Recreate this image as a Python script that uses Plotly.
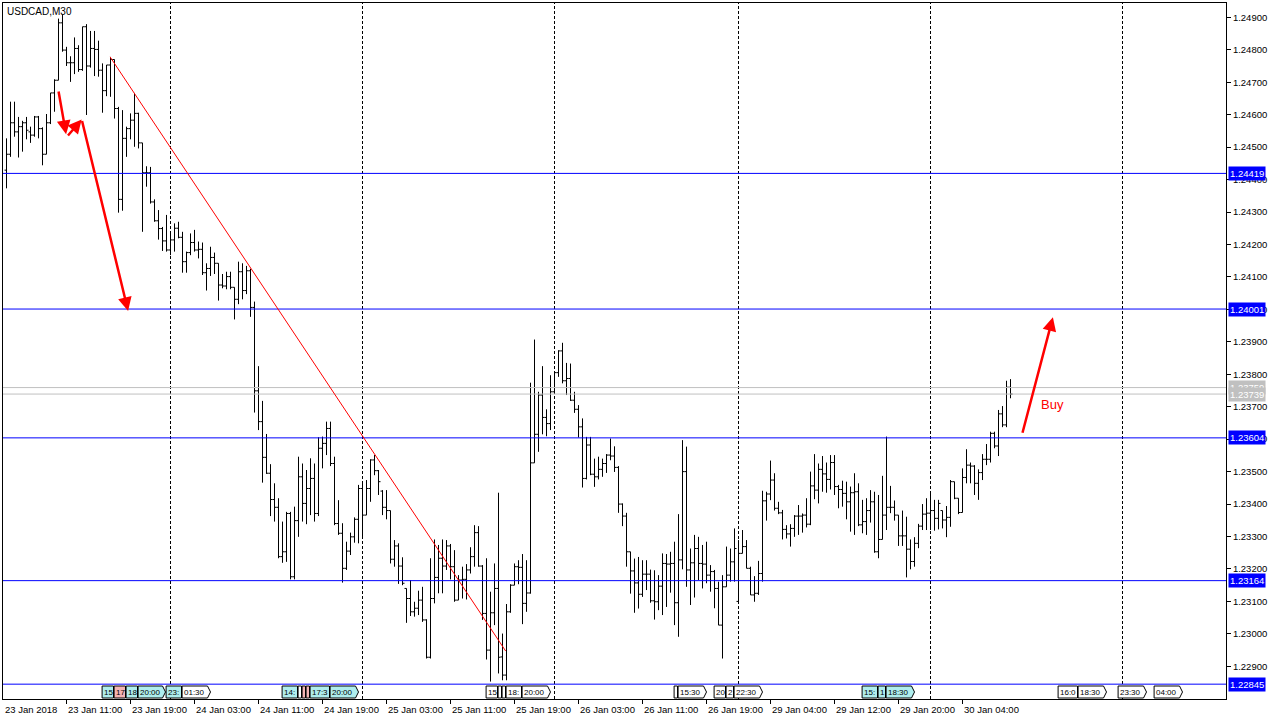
import plotly.graph_objects as go

chart_title = "USDCAD,M30"

# ---- OHLC data (M30 bars, bar 0 = 23 Jan 2018 03:30) ----
opens = [1.24429, 1.24478, 1.24575, 1.24547, 1.24563, 1.24575, 1.24547, 1.24537, 1.24593, 1.24557,
         1.24478, 1.24575, 1.24667, 1.24706, 1.24883, 1.24799, 1.24760, 1.24760, 1.24804, 1.24739,
         1.24871, 1.24750, 1.24804, 1.24801, 1.24737, 1.24674, 1.24753, 1.24770, 1.24619, 1.24339,
         1.24527, 1.24557, 1.24583, 1.24604, 1.24513, 1.24421, 1.24421, 1.24331, 1.24273, 1.24249,
         1.24211, 1.24183, 1.24214, 1.24250, 1.24222, 1.24147, 1.24175, 1.24206, 1.24183, 1.24185,
         1.24113, 1.24126, 1.24160, 1.24142, 1.24075, 1.24072, 1.24101, 1.24068, 1.24031, 1.24116,
         1.24058, 1.24119, 1.24006, 1.23749, 1.23654, 1.23544, 1.23495, 1.23414, 1.23390, 1.23238,
         1.23253, 1.23371, 1.23176, 1.23349, 1.23484, 1.23402, 1.23448, 1.23479, 1.23371, 1.23572,
         1.23587, 1.23633, 1.23525, 1.23340, 1.23310, 1.23202, 1.23255, 1.23299, 1.23353, 1.23448,
         1.23366, 1.23448, 1.23536, 1.23503, 1.23440, 1.23390, 1.23380, 1.23230, 1.23271, 1.23209,
         1.23140, 1.23109, 1.23068, 1.23079, 1.23104, 1.23043, 1.22928, 1.23109, 1.23174, 1.23233,
         1.23209, 1.23271, 1.23207, 1.23104, 1.23166, 1.23168, 1.23197, 1.23238, 1.23312, 1.23209,
         1.23063, 1.22950, 1.23065, 1.23140, 1.22929, 1.22873, 1.23068, 1.23150, 1.23207, 1.23205,
         1.23094, 1.23126, 1.23527, 1.23615, 1.23736, 1.23667, 1.23648, 1.23746, 1.23805, 1.23872,
         1.23780, 1.23787, 1.23720, 1.23692, 1.23638, 1.23479, 1.23582, 1.23492, 1.23484, 1.23507,
         1.23525, 1.23551, 1.23548, 1.23513, 1.23400, 1.23363, 1.23253, 1.23194, 1.23157, 1.23122,
         1.23184, 1.23184, 1.23102, 1.23099, 1.23147, 1.23217, 1.23215, 1.23217, 1.23096, 1.23228,
         1.23500, 1.23197, 1.23219, 1.23263, 1.23217, 1.23215, 1.23181, 1.23192, 1.23140, 1.23027,
         1.23145, 1.23181, 1.23222, 1.23100, 1.23248, 1.23269, 1.23202, 1.23120, 1.23125, 1.23186,
         1.23410, 1.23431, 1.23474, 1.23387, 1.23373, 1.23322, 1.23308, 1.23325, 1.23363, 1.23363,
         1.23366, 1.23338, 1.23456, 1.23443, 1.23507, 1.23493, 1.23476, 1.23528, 1.23454, 1.23445,
         1.23433, 1.23407, 1.23435, 1.23438, 1.23336, 1.23346, 1.23380, 1.23407, 1.23253, 1.23291,
         1.23366, 1.23390, 1.23390, 1.23366, 1.23302, 1.23302, 1.23261, 1.23223, 1.23279, 1.23332,
         1.23369, 1.23372, 1.23380, 1.23356, 1.23380, 1.23351, 1.23359, 1.23469, 1.23418, 1.23374,
         1.23482, 1.23520, 1.23517, 1.23464, 1.23497, 1.23538, 1.23538, 1.23618, 1.23579, 1.23678,
         1.23644, 1.23760]
highs = [1.24527, 1.24640, 1.24640, 1.24593, 1.24581, 1.24593, 1.24563, 1.24596, 1.24596, 1.24561,
         1.24602, 1.24667, 1.24709, 1.24896, 1.24907, 1.24809, 1.24780, 1.24838, 1.24814, 1.24871,
         1.24879, 1.24858, 1.24858, 1.24828, 1.24758, 1.24753, 1.24778, 1.24770, 1.24624, 1.24614,
         1.24563, 1.24604, 1.24667, 1.24606, 1.24513, 1.24441, 1.24439, 1.24339, 1.24306, 1.24254,
         1.24291, 1.24234, 1.24265, 1.24270, 1.24239, 1.24178, 1.24234, 1.24245, 1.24209, 1.24206,
         1.24142, 1.24193, 1.24175, 1.24142, 1.24109, 1.24116, 1.24116, 1.24068, 1.24147, 1.24142,
         1.24134, 1.24125, 1.24024, 1.23825, 1.23718, 1.23616, 1.23523, 1.23464, 1.23418, 1.23346,
         1.23376, 1.23376, 1.23392, 1.23546, 1.23525, 1.23505, 1.23541, 1.23525, 1.23606, 1.23608,
         1.23654, 1.23654, 1.23546, 1.23412, 1.23341, 1.23284, 1.23312, 1.23359, 1.23459, 1.23469,
         1.23474, 1.23538, 1.23551, 1.23505, 1.23443, 1.23443, 1.23380, 1.23289, 1.23279, 1.23236,
         1.23140, 1.23166, 1.23099, 1.23133, 1.23145, 1.23045, 1.23233, 1.23291, 1.23274, 1.23291,
         1.23289, 1.23277, 1.23258, 1.23181, 1.23207, 1.23215, 1.23267, 1.23335, 1.23332, 1.23212,
         1.23233, 1.23130, 1.23217, 1.23435, 1.23001, 1.23092, 1.23153, 1.23217, 1.23227, 1.23246,
         1.23227, 1.23774, 1.23907, 1.23746, 1.23825, 1.23692, 1.23797, 1.23808, 1.23874, 1.23897,
         1.23835, 1.23833, 1.23746, 1.23705, 1.23664, 1.23607, 1.23607, 1.23540, 1.23546, 1.23540,
         1.23554, 1.23602, 1.23578, 1.23517, 1.23402, 1.23373, 1.23253, 1.23232, 1.23237, 1.23227,
         1.23227, 1.23198, 1.23196, 1.23181, 1.23248, 1.23246, 1.23253, 1.23284, 1.23369, 1.23597,
         1.23577, 1.23263, 1.23305, 1.23299, 1.23274, 1.23284, 1.23212, 1.23197, 1.23161, 1.23181,
         1.23269, 1.23263, 1.23325, 1.23289, 1.23320, 1.23289, 1.23207, 1.23178, 1.23225, 1.23441,
         1.23438, 1.23534, 1.23495, 1.23407, 1.23382, 1.23335, 1.23338, 1.23366, 1.23397, 1.23371,
         1.23418, 1.23500, 1.23554, 1.23525, 1.23548, 1.23528, 1.23551, 1.23551, 1.23459, 1.23472,
         1.23469, 1.23454, 1.23495, 1.23464, 1.23413, 1.23418, 1.23443, 1.23438, 1.23428, 1.23487,
         1.23608, 1.23456, 1.23411, 1.23366, 1.23380, 1.23361, 1.23291, 1.23298, 1.23339, 1.23400,
         1.23418, 1.23431, 1.23413, 1.23413, 1.23380, 1.23394, 1.23474, 1.23469, 1.23418, 1.23510,
         1.23569, 1.23528, 1.23520, 1.23507, 1.23554, 1.23585, 1.23623, 1.23623, 1.23690, 1.23702,
         1.23780, 1.23785]
lows = [1.24373, 1.24470, 1.24532, 1.24468, 1.24486, 1.24524, 1.24513, 1.24532, 1.24527, 1.24444,
        1.24478, 1.24571, 1.24609, 1.24706, 1.24794, 1.24750, 1.24701, 1.24725, 1.24732, 1.24735,
        1.24599, 1.24745, 1.24719, 1.24717, 1.24606, 1.24657, 1.24655, 1.24588, 1.24298, 1.24304,
        1.24470, 1.24524, 1.24501, 1.24496, 1.24239, 1.24378, 1.24326, 1.24270, 1.24215, 1.24180,
        1.24178, 1.24167, 1.24178, 1.24219, 1.24113, 1.24113, 1.24167, 1.24178, 1.24157, 1.24106,
        1.24058, 1.24103, 1.24109, 1.24027, 1.24065, 1.24062, 1.24062, 1.23969, 1.24016, 1.24031,
        1.24047, 1.23977, 1.23682, 1.23628, 1.23466, 1.23493, 1.23363, 1.23346, 1.23233, 1.23219,
        1.23222, 1.23168, 1.23168, 1.23299, 1.23346, 1.23338, 1.23366, 1.23346, 1.23363, 1.23510,
        1.23551, 1.23517, 1.23335, 1.23305, 1.23158, 1.23197, 1.23243, 1.23281, 1.23279, 1.23294,
        1.23366, 1.23407, 1.23489, 1.23428, 1.23366, 1.23353, 1.23217, 1.23207, 1.23154, 1.23150,
        1.23034, 1.23055, 1.23053, 1.23058, 1.23037, 1.22924, 1.22924, 1.23094, 1.23125, 1.23125,
        1.23197, 1.23168, 1.23099, 1.23104, 1.23109, 1.23106, 1.23186, 1.23207, 1.23207, 1.23043,
        1.22921, 1.22853, 1.23027, 1.22878, 1.22857, 1.22857, 1.23065, 1.23150, 1.23153, 1.23030,
        1.23068, 1.23124, 1.23527, 1.23561, 1.23615, 1.23609, 1.23628, 1.23740, 1.23792, 1.23772,
        1.23736, 1.23718, 1.23681, 1.23605, 1.23451, 1.23476, 1.23489, 1.23453, 1.23476, 1.23484,
        1.23496, 1.23535, 1.23499, 1.23373, 1.23332, 1.23207, 1.23124, 1.23065, 1.23078, 1.23114,
        1.23135, 1.23096, 1.23044, 1.23073, 1.23058, 1.23083, 1.23127, 1.23027, 1.22991, 1.23199,
        1.23145, 1.23089, 1.23112, 1.23166, 1.23140, 1.23156, 1.23130, 1.23079, 1.23027, 1.22924,
        1.23145, 1.23161, 1.23161, 1.23092, 1.23248, 1.23202, 1.23120, 1.23099, 1.23120, 1.23161,
        1.23349, 1.23412, 1.23380, 1.23369, 1.23291, 1.23294, 1.23269, 1.23299, 1.23305, 1.23312,
        1.23328, 1.23335, 1.23415, 1.23402, 1.23438, 1.23435, 1.23445, 1.23428, 1.23387, 1.23392,
        1.23353, 1.23315, 1.23305, 1.23332, 1.23310, 1.23305, 1.23343, 1.23250, 1.23233, 1.23291,
        1.23320, 1.23372, 1.23349, 1.23271, 1.23271, 1.23174, 1.23199, 1.23207, 1.23264, 1.23320,
        1.23320, 1.23320, 1.23318, 1.23322, 1.23325, 1.23298, 1.23330, 1.23415, 1.23369, 1.23374,
        1.23464, 1.23464, 1.23428, 1.23413, 1.23474, 1.23520, 1.23528, 1.23572, 1.23548, 1.23637,
        1.23637, 1.23726]
closes = [1.24478, 1.24575, 1.24547, 1.24563, 1.24575, 1.24552, 1.24537, 1.24593, 1.24557, 1.24478,
          1.24575, 1.24667, 1.24706, 1.24883, 1.24799, 1.24760, 1.24760, 1.24804, 1.24739, 1.24871,
          1.24750, 1.24804, 1.24801, 1.24737, 1.24674, 1.24753, 1.24770, 1.24619, 1.24339, 1.24527,
          1.24557, 1.24583, 1.24604, 1.24513, 1.24421, 1.24421, 1.24331, 1.24273, 1.24249, 1.24211,
          1.24183, 1.24214, 1.24250, 1.24222, 1.24147, 1.24175, 1.24206, 1.24183, 1.24185, 1.24113,
          1.24126, 1.24160, 1.24142, 1.24075, 1.24072, 1.24101, 1.24068, 1.24031, 1.24116, 1.24058,
          1.24119, 1.24006, 1.23749, 1.23654, 1.23544, 1.23495, 1.23414, 1.23390, 1.23238, 1.23253,
          1.23371, 1.23176, 1.23349, 1.23484, 1.23402, 1.23448, 1.23479, 1.23371, 1.23572, 1.23587,
          1.23633, 1.23525, 1.23340, 1.23310, 1.23202, 1.23255, 1.23299, 1.23353, 1.23448, 1.23366,
          1.23448, 1.23536, 1.23503, 1.23469, 1.23390, 1.23380, 1.23230, 1.23271, 1.23209, 1.23156,
          1.23109, 1.23068, 1.23079, 1.23104, 1.23043, 1.22928, 1.23109, 1.23174, 1.23233, 1.23209,
          1.23271, 1.23207, 1.23104, 1.23166, 1.23168, 1.23197, 1.23238, 1.23312, 1.23209, 1.23063,
          1.22950, 1.23065, 1.23140, 1.22928, 1.22873, 1.23068, 1.23150, 1.23207, 1.23205, 1.23094,
          1.23126, 1.23527, 1.23615, 1.23736, 1.23667, 1.23648, 1.23746, 1.23805, 1.23872, 1.23780,
          1.23787, 1.23720, 1.23692, 1.23638, 1.23479, 1.23582, 1.23492, 1.23484, 1.23507, 1.23525,
          1.23551, 1.23548, 1.23513, 1.23400, 1.23363, 1.23253, 1.23194, 1.23157, 1.23122, 1.23184,
          1.23184, 1.23102, 1.23099, 1.23147, 1.23217, 1.23215, 1.23217, 1.23096, 1.23228, 1.23500,
          1.23197, 1.23219, 1.23263, 1.23217, 1.23215, 1.23181, 1.23192, 1.23140, 1.23027, 1.23145,
          1.23181, 1.23222, 1.23263, 1.23248, 1.23269, 1.23202, 1.23120, 1.23125, 1.23186, 1.23410,
          1.23431, 1.23474, 1.23387, 1.23373, 1.23322, 1.23308, 1.23325, 1.23363, 1.23363, 1.23366,
          1.23338, 1.23456, 1.23443, 1.23507, 1.23493, 1.23476, 1.23528, 1.23454, 1.23445, 1.23433,
          1.23407, 1.23435, 1.23438, 1.23336, 1.23346, 1.23380, 1.23407, 1.23253, 1.23291, 1.23366,
          1.23390, 1.23390, 1.23366, 1.23302, 1.23302, 1.23261, 1.23223, 1.23279, 1.23332, 1.23369,
          1.23372, 1.23380, 1.23356, 1.23402, 1.23351, 1.23359, 1.23469, 1.23418, 1.23374, 1.23482,
          1.23520, 1.23517, 1.23464, 1.23497, 1.23538, 1.23538, 1.23618, 1.23579, 1.23678, 1.23644,
          1.23760, 1.23739]
bar_index = list(range(len(opens)))

# ---- time axis ----
first_time_label = "23 Jan 2018"
time_tick_bars = [15, 31, 47, 63, 79, 95, 111, 127, 143, 159, 175, 191, 207, 223, 239]
time_tick_labels = ["23 Jan 11:00", "23 Jan 19:00", "24 Jan 03:00", "24 Jan 11:00", "24 Jan 19:00",
                    "25 Jan 03:00", "25 Jan 11:00", "25 Jan 19:00", "26 Jan 03:00", "26 Jan 11:00",
                    "26 Jan 19:00", "29 Jan 04:00", "29 Jan 12:00", "29 Jan 20:00", "30 Jan 04:00"]
day_separator_bars = [41, 89, 137, 183, 231, 279]
x_view = [-0.875, 304.875]

# ---- price axis ----
price_ticks = [1.229, 1.230, 1.231, 1.232, 1.233, 1.234, 1.235, 1.236, 1.237, 1.238, 1.239,
               1.240, 1.241, 1.242, 1.243, 1.244, 1.245, 1.246, 1.247, 1.248, 1.249]
price_tick_labels = ["1.22900", "1.23000", "1.23100", "1.23200", "1.23300", "1.23400", "1.23500",
                     "1.23600", "1.23700", "1.23800", "1.23900", "1.24000", "1.24100", "1.24200",
                     "1.24300", "1.24400", "1.24500", "1.24600", "1.24700", "1.24800", "1.24900"]
y_view = [1.227993, 1.249441]

# ---- horizontal levels ----
level_prices = [1.24419, 1.24001, 1.23604, 1.23164, 1.22845]
level_labels = ["1.24419", "1.24001", "1.23604", "1.23164", "1.22845"]
ask_price, ask_label = 1.23759, "1.23759"
bid_price, bid_label = 1.23739, "1.23739"

# ---- drawings ----
trend_bars = [25.9, 124.8]
trend_prices = [1.24778, 1.22947]
arrow_tail_bars = [12.95, 15.05, 18.8, 253.9]
arrow_tail_prices = [1.24676, 1.24531, 1.24585, 1.23615]
arrow_head_bars = [14.9, 18.8, 30.4, 261.6]
arrow_head_prices = [1.24540, 1.24585, 1.23995, 1.23976]
buy_text, buy_bar, buy_price = "Buy", 261.6, 1.23708

# ---- calendar event markers ----
event_bars = [24, 27, 30, 33, 40, 44, 69, 73, 74, 75, 76, 81, 120, 123, 124, 125, 129,
              167, 168, 177, 180, 182, 214, 218, 220, 263, 268, 278, 287]
event_labels = ["15", "17", "18", "20:00", "23:", "01:30", "14:", "", "", "", "17:3", "20:00",
                "15", "", "", "18:", "20:00", "", "15:30", "20", "2", "22:30", "15:", "1", "18:30",
                "16:0", "18:30", "23:30", "04:00"]
event_kinds = ["c", "p", "c", "c", "c", "w", "c", "w", "p", "p", "c", "c", "w", "w", "w", "w", "w",
               "w", "w", "w", "w", "w", "c", "c", "c", "w", "w", "w", "w"]
kind_colors = {"c": "#AFEEEE", "p": "#F4B4B4", "w": "#FFFFFF"}

FONT = "Liberation Sans, Arial, sans-serif"

fig = go.Figure()
fig.add_trace(go.Ohlc(
    x=bar_index, open=opens, high=highs, low=lows, close=closes,
    increasing=dict(line=dict(color="black", width=1)),
    decreasing=dict(line=dict(color="black", width=1)),
    tickwidth=0.5, hoverinfo="skip", showlegend=False,
))

shapes = []
for b in day_separator_bars:
    shapes.append(dict(type="line", xref="x", yref="paper", x0=b, x1=b, y0=0, y1=1,
                       line=dict(color="black", width=1, dash="3px,2px"), layer="above"))
for p in level_prices:
    shapes.append(dict(type="line", xref="paper", yref="y", x0=0, x1=1, y0=p, y1=p,
                       line=dict(color="#0000FF", width=1)))
for p in (ask_price, bid_price):
    shapes.append(dict(type="line", xref="paper", yref="y", x0=0, x1=1, y0=p, y1=p,
                       line=dict(color="#C0C0C0", width=1)))
shapes.append(dict(type="line", xref="x", yref="y", x0=trend_bars[0], x1=trend_bars[1],
                   y0=trend_prices[0], y1=trend_prices[1], line=dict(color="#FF0000", width=1)))

annotations = []
# event boxes
box_y0, box_y1 = 1.0 / 696, 13.0 / 696
box_mid = (box_y0 + box_y1) / 2
for i, (b, lab, kind) in enumerate(zip(event_bars, event_labels, event_kinds)):
    natural_end = b + 7
    nxt = event_bars[i + 1] - 0.25 if i + 1 < len(event_bars) else natural_end
    x1 = min(natural_end, nxt)
    x0 = b - 0.1
    if len(lab) == 5:
        path = (f"M {x0},{box_y0} L {x1 - 0.75},{box_y0} L {x1},{box_mid} "
                f"L {x1 - 0.75},{box_y1} L {x0},{box_y1} Z")
        shapes.append(dict(type="path", xref="x", yref="paper", path=path,
                           fillcolor=kind_colors[kind], line=dict(color="black", width=1)))
    else:
        shapes.append(dict(type="rect", xref="x", yref="paper", x0=x0, x1=x1, y0=box_y0, y1=box_y1,
                           fillcolor=kind_colors[kind], line=dict(color="black", width=1)))
    if lab:
        annotations.append(dict(x=x0, y=box_mid, xref="x", yref="paper", text=lab, showarrow=False,
                                xanchor="left", yanchor="middle", xshift=0,
                                font=dict(family=FONT, size=8, color="black")))

# time labels
annotations.append(dict(x=x_view[0], y=0, xref="x", yref="paper", text=first_time_label,
                        showarrow=False, xanchor="left", yanchor="top", yshift=-3,
                        font=dict(family=FONT, size=9.5, color="black")))
for b, lab in zip(time_tick_bars, time_tick_labels):
    annotations.append(dict(x=b, y=0, xref="x", yref="paper", text=lab, showarrow=False,
                            xanchor="left", yanchor="top", yshift=-3, xshift=-1,
                            font=dict(family=FONT, size=9.5, color="black")))

# price labels on the right
for p, lab in zip(level_prices, level_labels):
    annotations.append(dict(x=1, y=p, xref="paper", yref="y", text=lab, showarrow=False,
                            xanchor="left", yanchor="middle", xshift=2, bgcolor="#0000FF",
                            borderpad=1, font=dict(family=FONT, size=9.5, color="white")))
for p, lab in ((ask_price, ask_label), (bid_price, bid_label)):
    annotations.append(dict(x=1, y=p, xref="paper", yref="y", text=lab, showarrow=False,
                            xanchor="left", yanchor="middle", xshift=2, bgcolor="#C0C0C0",
                            borderpad=1, font=dict(family=FONT, size=9.5, color="white")))

# arrows
for tb, tp, hb, hp in zip(arrow_tail_bars, arrow_tail_prices, arrow_head_bars, arrow_head_prices):
    annotations.append(dict(x=hb, y=hp, ax=tb, ay=tp, xref="x", yref="y", axref="x", ayref="y",
                            text="", showarrow=True, arrowhead=2, arrowsize=1.1, arrowwidth=2.5,
                            arrowcolor="#FF0000"))
annotations.append(dict(x=buy_bar, y=buy_price, xref="x", yref="y", text=buy_text, showarrow=False,
                        font=dict(family=FONT, size=13, color="#FF0000")))

# chart title
annotations.append(dict(x=0, y=1, xref="paper", yref="paper", text=chart_title, showarrow=False,
                        xanchor="left", yanchor="top", xshift=2, yshift=-1,
                        font=dict(family=FONT, size=10, color="black")))

fig.update_layout(
    width=1280, height=720,
    margin=dict(l=3, r=54, t=3, b=21, pad=0, autoexpand=False),
    paper_bgcolor="white", plot_bgcolor="white",
    showlegend=False,
    font=dict(family=FONT, color="black"),
    shapes=shapes, annotations=annotations,
    xaxis=dict(range=x_view, rangeslider=dict(visible=False), showgrid=False, zeroline=False,
               showline=True, mirror=True, linecolor="black", linewidth=1,
               ticks="outside", ticklen=4, tickcolor="black", tickvals=time_tick_bars,
               ticktext=[""] * len(time_tick_bars), fixedrange=True),
    yaxis=dict(range=y_view, side="right", showgrid=False, zeroline=False,
               showline=True, mirror=True, linecolor="black", linewidth=1,
               ticks="outside", ticklen=4, tickcolor="black", tickvals=price_ticks,
               ticktext=price_tick_labels, tickfont=dict(family=FONT, size=9.5, color="black"),
               fixedrange=True),
)

fig.write_html("out.html", config={"displayModeBar": False, "staticPlot": True},
               post_script="document.body.style.margin='0';document.body.style.overflow='hidden';")
